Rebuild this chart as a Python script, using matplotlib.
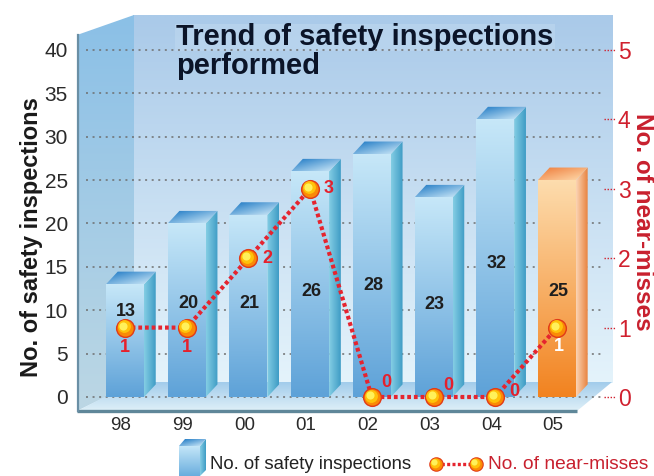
import numpy as np
import matplotlib
matplotlib.use("Agg")
import matplotlib.pyplot as plt
from matplotlib.patches import Polygon
from matplotlib.transforms import offset_copy
from matplotlib.colors import to_rgb

plt.rcParams['font.family'] = ['Liberation Sans', 'DejaVu Sans']

# data
years = ['98', '99', '00', '01', '02', '03', '04', '05']
inspections = [13, 20, 21, 26, 28, 23, 32, 25]
near_misses = [1, 1, 2, 3, 0, 0, 0, 1]

# where the value labels sit (layout only)
insp_label_y = [9.8, 10.8, 10.8, 12.2, 12.9, 10.7, 15.4, 12.2]
nm_label_off = [(0, -20), (0, -20), (19, 0), (19, 0), (14, 14), (15, 11), (19, 5), (2, -19)]

RED = '#d0202e'
W, H = 654, 476

fig = plt.figure(figsize=(W / 100, H / 100), dpi=100)


def vgrad(c0, c1, n=64):
    a, b = np.array(to_rgb(c0)), np.array(to_rgb(c1))
    t = np.linspace(0, 1, n)[:, None, None]
    return np.repeat(a * (1 - t) + b * t, 2, axis=1)


def hgrad(c0, c1, n=64):
    a, b = np.array(to_rgb(c0)), np.array(to_rgb(c1))
    t = np.linspace(0, 1, n)[None, :, None]
    return np.repeat(a * (1 - t) + b * t, 2, axis=0)


def dgrad(c0, c1, n=48):
    a, b = np.array(to_rgb(c0)), np.array(to_rgb(c1))
    xx, yy = np.meshgrid(np.linspace(0, 1, n), np.linspace(0, 1, n))
    t = ((xx + (1 - yy)) / 2)[:, :, None]
    return a * (1 - t) + b * t


def fill_grad(ax, verts, arr, extent, zorder):
    # extent = (left, right, visual bottom, visual top); row 0 of arr is the bottom
    poly = Polygon(verts, closed=True, fc='none', ec='none')
    ax.add_patch(poly)
    im = ax.imshow(arr, extent=extent, origin='lower', aspect='auto',
                   interpolation='bilinear', zorder=zorder)
    im.set_clip_path(poly)
    return im


# ---- background: walls and floor, in pixel coordinates (y down)
bg = fig.add_axes([0, 0, 1, 1])
bg.axis('off')
bg.set_zorder(0)

# back wall
fill_grad(bg, [(133, 15), (613, 15), (613, 383), (133, 383)],
          vgrad('#e4f3fb', '#aacae9'), (133, 613, 383, 15), 1)
# left wall
fill_grad(bg, [(77, 35), (134, 15), (134, 383), (77, 411)],
          vgrad('#bcd7e4', '#8bc0e7'), (77, 134, 411, 15), 2)
# floor
fill_grad(bg, [(77, 411), (577, 411), (612, 382), (134, 382)],
          vgrad('#dff0f8', '#a2cceb'), (77, 612, 411, 382), 3)
bg.plot([77, 577], [410.5, 410.5], color='#5f8799', lw=2.4, solid_capstyle='butt', zorder=4)
bg.plot([77.5, 77.5], [35, 411], color='#6a8fa5', lw=1.6, zorder=4)
# faint box behind the title
bg.add_patch(plt.Rectangle((175, 24), 380, 27, fc='#c4dcf1', ec='none', alpha=0.45, zorder=5))
bg.set_xlim(0, W)
bg.set_ylim(H, 0)

# ---- main axes (front plane)
ax = fig.add_axes([77 / W, (H - 414.35) / H, 527 / W, 403.39 / H])
ax.set_zorder(1)
ax.patch.set_visible(False)

bw, ddx, ddy = 0.308, 0.19, 1.45
for i, v in enumerate(inspections):
    if i == len(inspections) - 1:
        cf = ('#f28320', '#fddcad')
        cs = ('#fbd4b4', '#e8823e')
        ct = ('#ee7a38', '#ffdcae')
    else:
        cf = ('#5ea2d8', '#c6e7f8')
        cs = ('#84cde4', '#3e9cc5')
        ct = ('#1674c2', '#d4edfa')
    x0, x1 = i - bw, i + bw
    fill_grad(ax, [(x0, 0), (x1, 0), (x1, v), (x0, v)],
              vgrad(*cf), (x0, x1, 0, v), 3)
    fill_grad(ax, [(x1, 0), (x1 + ddx, ddy), (x1 + ddx, v + ddy), (x1, v)],
              hgrad(*cs), (x1, x1 + ddx, 0, v + ddy), 3)
    fill_grad(ax, [(x0, v), (x0 + ddx, v + ddy), (x1 + ddx, v + ddy), (x1, v)],
              dgrad(*ct), (x0, x1 + ddx, v, v + ddy), 3)
    ax.text(i + 0.02, insp_label_y[i], str(v), ha='center', va='center',
            fontsize=13, fontweight='bold', color='#1e1e1e', zorder=6)

ax.hlines(range(0, 41, 5), -0.632, 7.73, colors='#6e6e6e', linestyles=(0, (1.3, 3.0)),
          lw=1.1, zorder=1)

ax.set_xticks([i - 0.065 for i in range(len(years))])
ax.set_xticklabels(years)
ax.set_yticks(range(0, 41, 5))
ax.tick_params(axis='x', length=0, pad=2, labelsize=13.5, labelcolor='#2a2a2a')
ax.tick_params(axis='y', length=0, pad=6.5, labelsize=15, labelcolor='#2a2a2a')
for s in ax.spines.values():
    s.set_visible(False)

# ---- right axis: near-misses
ax2 = ax.twinx()
ax2.set_zorder(2)
ax2.set_ylim(-2 / 8, 44.5 / 8)
ax2.set_yticks(range(0, 6))
ax2.tick_params(axis='y', length=0, pad=10, labelsize=16.5, labelcolor=RED)
for s in ax2.spines.values():
    s.set_visible(False)
ax2.hlines(range(0, 6), 7.76, 7.94, colors=RED, linestyles=(0, (1, 1.2)), lw=1.0, clip_on=False)

xs = np.arange(len(years))
ax2.plot(xs, near_misses, color='#e5242f', lw=3.0, linestyle=(0, (0.9, 0.7)),
         dash_capstyle='butt', zorder=4)


def ball(a, x, y, s, trans_base):
    a.scatter(x, y, s=s, color='#e23c18', zorder=5, transform=trans_base, linewidths=0)
    a.scatter(x, y, s=s * 0.72, color='#fa8a06', zorder=5, transform=trans_base, linewidths=0)
    t1 = offset_copy(trans_base, fig=fig, x=-1.3, y=1.3, units='dots')
    a.scatter(x, y, s=s * 0.45, color='#ffc20a', zorder=5, transform=t1, linewidths=0)
    t2 = offset_copy(trans_base, fig=fig, x=-2, y=2, units='dots')
    a.scatter(x, y, s=s * 0.18, color='#fff15a', zorder=5, transform=t2, linewidths=0)


ball(ax2, xs, near_misses, 190, ax2.transData)

for i, v in enumerate(near_misses):
    col = 'white' if i == len(near_misses) - 1 else '#e5202c'
    ax2.annotate(str(v), (i, v), xytext=nm_label_off[i], textcoords='offset pixels',
                 ha='center', va='center', fontsize=13, fontweight='bold', color=col, zorder=6)

ax.set_xlim(-0.778, 7.763)
ax.set_ylim(-2, 44.5)

# ---- overlay: titles, axis names and legend, in pixel coordinates
ov = fig.add_axes([0, 0, 1, 1])
ov.axis('off')
ov.set_zorder(3)
ov.patch.set_visible(False)

ov.text(176, 45, 'Trend of safety inspections', fontsize=21, fontweight='bold',
        color='#0b1428', va='baseline', ha='left')
ov.text(176, 74, 'performed', fontsize=21, fontweight='bold',
        color='#0b1428', va='baseline', ha='left')

ov.text(32, 237, 'No. of safety inspections', rotation=90, fontsize=17, fontweight='bold',
        color='#1a1a1a', ha='center', va='center')
ov.text(642, 222, 'No. of near-misses', rotation=270, fontsize=17.5, fontweight='bold',
        color='#c8202e', ha='center', va='center')

# legend: bar icon
fill_grad(ov, [(179, 446), (200, 446), (200, 476), (179, 476)],
          vgrad('#6aaede', '#c4e6f8'), (179, 200, 476, 446), 2)
fill_grad(ov, [(200, 446), (206, 439), (206, 470), (200, 476)],
          hgrad('#84cde4', '#3e9cc5'), (200, 206, 476, 439), 2)
fill_grad(ov, [(179, 446), (185, 439), (206, 439), (200, 446)],
          dgrad('#1674c2', '#d4edfa'), (179, 206, 446, 439), 2)
ov.text(210, 469, 'No. of safety inspections', fontsize=13.3, color='#222222',
        va='baseline', ha='left')
# legend: line with balls
ov.plot([436, 476], [464, 464], color='#e5242f', lw=2.4, linestyle=(0, (0.9, 0.7)),
        dash_capstyle='butt', zorder=3)
ball(ov, [436, 476], [464, 464], 110, ov.transData)
ov.text(488, 469, 'No. of near-misses', fontsize=13.8, color='#c8202e',
        va='baseline', ha='left')
ov.set_xlim(0, W)
ov.set_ylim(H, 0)

fig.savefig('out.png', dpi=100)
